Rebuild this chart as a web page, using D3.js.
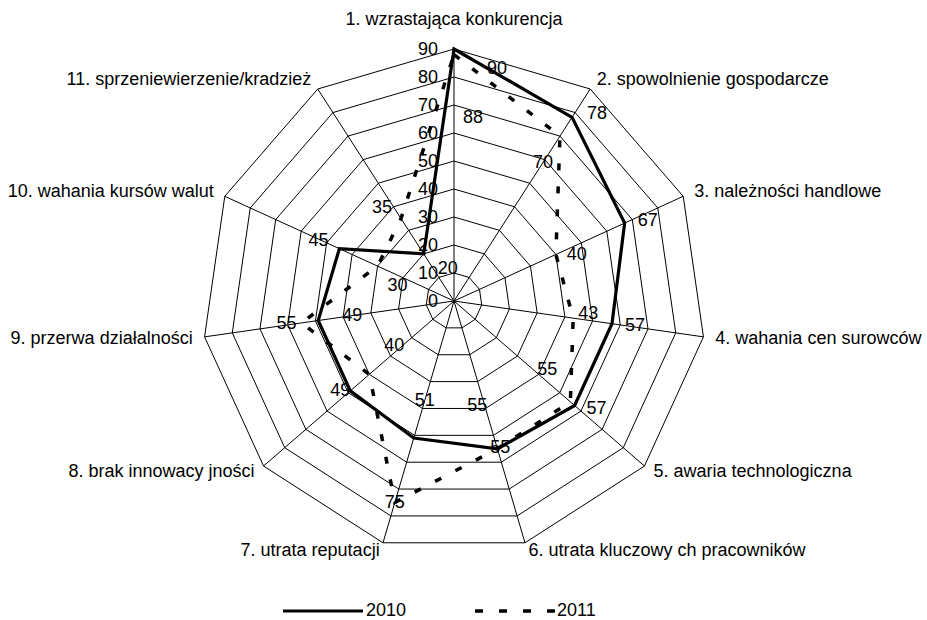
<!DOCTYPE html>
<html>
<head>
<meta charset="utf-8">
<script src="https://cdn.jsdelivr.net/npm/d3@7"></script>
<style>
  html, body { margin: 0; padding: 0; background: #fff; }
  svg text { font-family: "Liberation Sans", Arial, sans-serif; fill: #000; }
</style>
</head>
<body>
<svg id="chart" width="927" height="620"></svg>
<script>
// ---- data ----
const categories = [
  "1. wzrastająca konkurencja",
  "2. spowolnienie gospodarcze",
  "3. należności handlowe",
  "4. wahania cen surowców",
  "5. awaria technologiczna",
  "6. utrata kluczowy ch pracowników",
  "7. utrata reputacji",
  "8. brak innowacy jności",
  "9. przerwa działalności",
  "10. wahania kursów walut",
  "11. sprzeniewierzenie/kradzież"
];
const values2010 = [90, 78, 67, 57, 57, 55, 51, 49, 49, 45, 20];
const values2011 = [88, 70, 40, 43, 55, 55, 75, 40, 55, 30, 35];
const seriesNames = ["2010", "2011"];
const tickValues = [0, 10, 20, 30, 40, 50, 60, 70, 80, 90];

// label nudges (pixels) for data labels, kept apart from the data
const labelNudge2010 = [[43,19],[25,-4],[23,-3],[23,1],[22,2],[3,-2],[11,-38],[-10,-1],[34,-6],[-21,-9],[24,14]];
const labelNudge2011 = [[19,62],[-17,26],[21,0],[15,-5],[-23,-33],[-20,-44],[0,0],[25,-29],[-15,0],[20,19],[-19,-12]];

// ---- layout ----
const cx = 454, cy = 301, R = 252;
const svg = d3.select("#chart");
const g = svg.append("g").attr("transform", `translate(${cx},${cy})`);

const r = d3.scaleLinear().domain([0, 90]).range([0, R]);
const angle = d3.scaleLinear().domain([0, categories.length]).range([0, 2 * Math.PI]);
const idx = d3.range(categories.length);

const pt = (i, rad) => [rad * Math.sin(angle(i)), -rad * Math.cos(angle(i))];

// grid rings
const ringLine = d3.lineRadial().angle(i => angle(i)).curve(d3.curveLinearClosed);
tickValues.filter(t => t > 0).forEach(t => {
  g.append("path")
    .attr("d", ringLine.radius(() => r(t))(idx))
    .attr("fill", "none").attr("stroke", "#000").attr("stroke-width", 1);
});
// spokes
g.selectAll("line.spoke").data(idx).enter().append("line")
  .attr("x1", 0).attr("y1", 0)
  .attr("x2", i => pt(i, r(90))[0]).attr("y2", i => pt(i, r(90))[1])
  .attr("stroke", "#000").attr("stroke-width", 1);

// tick labels
g.selectAll("text.tick").data(tickValues).enter().append("text")
  .attr("x", -16).attr("y", t => -r(t))
  .attr("text-anchor", "end").attr("dominant-baseline", "central")
  .attr("font-size", 18).text(t => t);

// series
const seriesLine = d3.lineRadial().angle((d, i) => angle(i)).radius(d => r(d)).curve(d3.curveLinearClosed);
g.append("path").attr("d", seriesLine(values2011))
  .attr("fill", "none").attr("stroke", "#000").attr("stroke-width", 3.5)
  .attr("stroke-dasharray", "7,16");
g.append("path").attr("d", seriesLine(values2010))
  .attr("fill", "none").attr("stroke", "#000").attr("stroke-width", 3.2)
  .attr("stroke-linejoin", "miter");

// data labels
function dataLabels(vals, nudge) {
  g.append("g").selectAll("text").data(vals).enter().append("text")
    .attr("x", (v, i) => pt(i, r(v))[0] + nudge[i][0])
    .attr("y", (v, i) => pt(i, r(v))[1] + nudge[i][1])
    .attr("text-anchor", "middle").attr("dominant-baseline", "central")
    .attr("font-size", 18).text(v => v);
}
dataLabels(values2010, labelNudge2010);
dataLabels(values2011, labelNudge2011);

// category labels
const gap = 12;
g.selectAll("text.cat").data(categories).enter().append("text")
  .attr("x", (c, i) => pt(i, R + gap)[0])
  .attr("y", (c, i) => {
    const y = pt(i, R + gap)[1];
    if (i === 0) return y - 18;
    const c0 = Math.cos(angle(i));
    return y - 5 * Math.max(0, -c0);
  })
  .attr("text-anchor", (c, i) => {
    const s = Math.sin(angle(i));
    return s > 0.1 ? "start" : (s < -0.1 ? "end" : "middle");
  })
  .attr("dominant-baseline", "central")
  .attr("font-size", 18).text(c => c);

// legend
const leg = svg.append("g");
const ly = 610;
leg.append("line").attr("x1", 283).attr("x2", 363).attr("y1", ly + 1).attr("y2", ly + 1)
  .attr("stroke", "#000").attr("stroke-width", 3.2);
leg.append("text").attr("x", 366).attr("y", ly).attr("dominant-baseline", "central")
  .attr("font-size", 18).text(seriesNames[0]);
leg.append("line").attr("x1", 475).attr("x2", 555).attr("y1", ly + 1).attr("y2", ly + 1)
  .attr("stroke", "#000").attr("stroke-width", 3.5).attr("stroke-dasharray", "8,16");
leg.append("text").attr("x", 557).attr("y", ly).attr("dominant-baseline", "central")
  .attr("font-size", 18).text(seriesNames[1]);
</script>
</body>
</html>
